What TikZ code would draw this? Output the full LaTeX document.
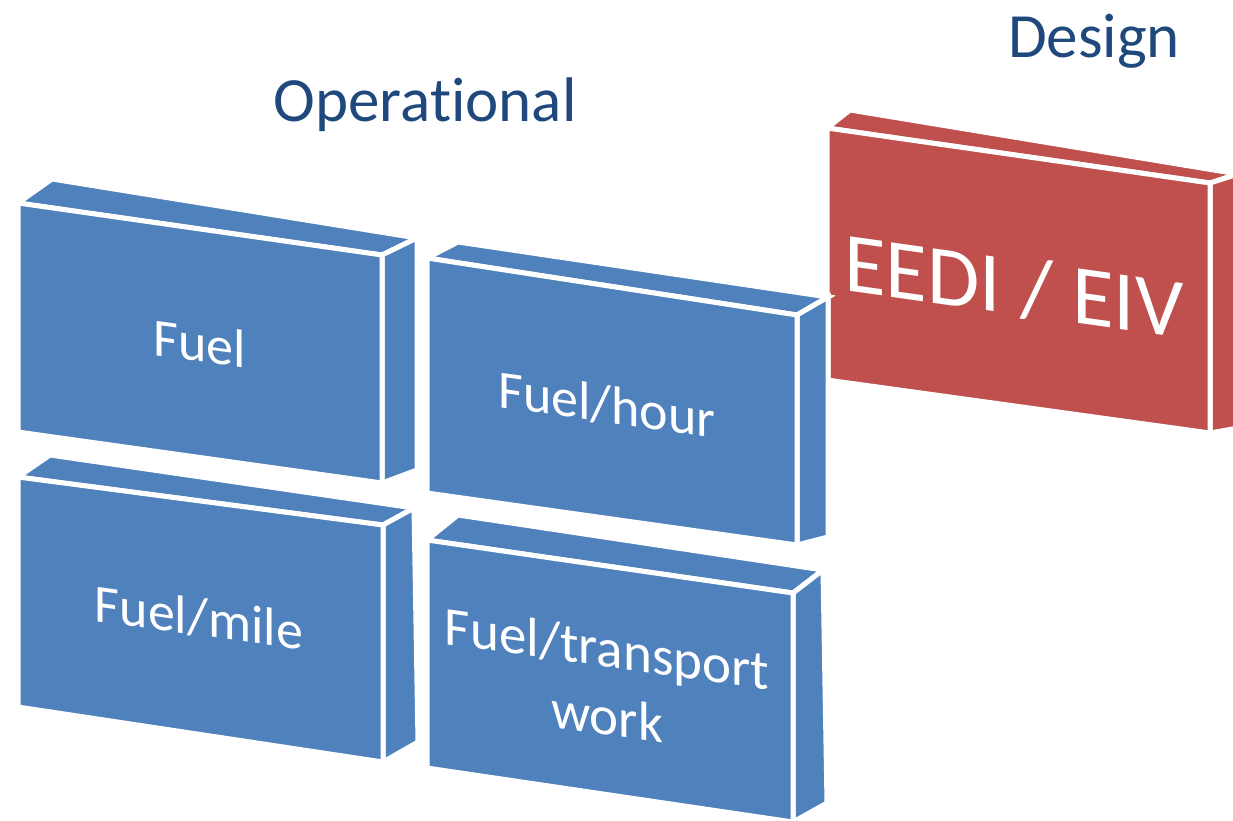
\documentclass[tikz,border=0pt]{standalone}
\usepackage{fontspec}
\setmainfont{Carlito}[Ligatures=NoCommon]
\definecolor{slabblue}{RGB}{79,129,189}
\definecolor{slabred}{RGB}{192,80,77}
\definecolor{headblue}{RGB}{31,73,125}
\tikzset{
  face/.style={fill=#1, draw=white, line width=5pt, line join=miter},
  slabtext/.style={text=white, align=center, yslant=-0.14, inner sep=0pt,
    font=\fontsize{54}{58}\selectfont},
  heading/.style={text=headblue, anchor=base, inner sep=0pt,
    font=\fontsize{63}{70}\selectfont}
}
% a slab: front face, top face and right face from named corners
\newcommand\drawslab[2]{%
  \fill[face=#2] (#1-tl) -- (#1-btl) -- (#1-btr) -- (#1-tr) -- cycle;
  \fill[face=#2] (#1-tr) -- (#1-btr) -- (#1-bbr) -- (#1-br) -- cycle;
  \fill[face=#2] (#1-tl) -- (#1-tr) -- (#1-br) -- (#1-bl) -- cycle;
  \draw[face=#2] (#1-tl) -- (#1-btl) -- (#1-btr) -- (#1-tr) -- cycle;
  \draw[face=#2] (#1-tr) -- (#1-btr) -- (#1-bbr) -- (#1-br) -- cycle;
  \draw[face=#2] (#1-tl) -- (#1-tr) -- (#1-br) -- (#1-bl) -- cycle;
}
\begin{document}
\begin{tikzpicture}[x=1pt,y=-1pt]
\useasboundingbox (0,0) rectangle (1233,820);

% EEDI / EIV slab
\coordinate (d-tl) at (827,128);  \coordinate (d-tr) at (1210,183);
\coordinate (d-br) at (1210,433); \coordinate (d-bl) at (827,380);
\coordinate (d-btl) at (850,110); \coordinate (d-btr) at (1238,174);
\coordinate (d-bbr) at (1238,428);
\drawslab{d}{slabred}

% Fuel/mile slab
\coordinate (c-tl) at (18,477);  \coordinate (c-tr) at (383,525);
\coordinate (c-br) at (383,762); \coordinate (c-bl) at (18,707);
\coordinate (c-btl) at (50,455); \coordinate (c-btr) at (414,508);
\coordinate (c-bbr) at (418,742);
\drawslab{c}{slabblue}

% Fuel/transport work slab
\coordinate (e-tl) at (427,540);  \coordinate (e-tr) at (793,593);
\coordinate (e-br) at (793,822);  \coordinate (e-bl) at (427,768);
\coordinate (e-btl) at (458,515); \coordinate (e-btr) at (823,570);
\coordinate (e-bbr) at (827,803);
\drawslab{e}{slabblue}

% Fuel slab
\coordinate (a-tl) at (18,203);  \coordinate (a-tr) at (382,255);
\coordinate (a-br) at (382,483); \coordinate (a-bl) at (18,432);
\coordinate (a-btl) at (52,179); \coordinate (a-btr) at (417,238);
\coordinate (a-bbr) at (417,470);
\drawslab{a}{slabblue}

% Fuel/hour slab
\coordinate (b-tl) at (427,258);  \coordinate (b-tr) at (797,315);
\coordinate (b-br) at (797,545);  \coordinate (b-bl) at (427,493);
\coordinate (b-btl) at (458,242); \coordinate (b-btr) at (828,297);
\coordinate (b-bbr) at (828,537);
\drawslab{b}{slabblue}

% labels
\node[slabtext] (fuel) at (200,343) {Fuel};
\node[slabtext] (fuelhour) at (607,405) {Fuel/hour};
\node[slabtext] (fuelmile) at (199,618) {Fuel/mile};
\node[slabtext, font=\fontsize{55}{68}\selectfont] (fueltw) at (607,682) {Fuel/transport\\work};
\node[slabtext, font=\fontsize{85}{90}\selectfont] (eedi) at (1014,287) {EEDI / EIV};

\node[heading] (oper) at (425,121) {Operational};
\node[heading] (design) at (1094,57) {Design};
\end{tikzpicture}
\end{document}
